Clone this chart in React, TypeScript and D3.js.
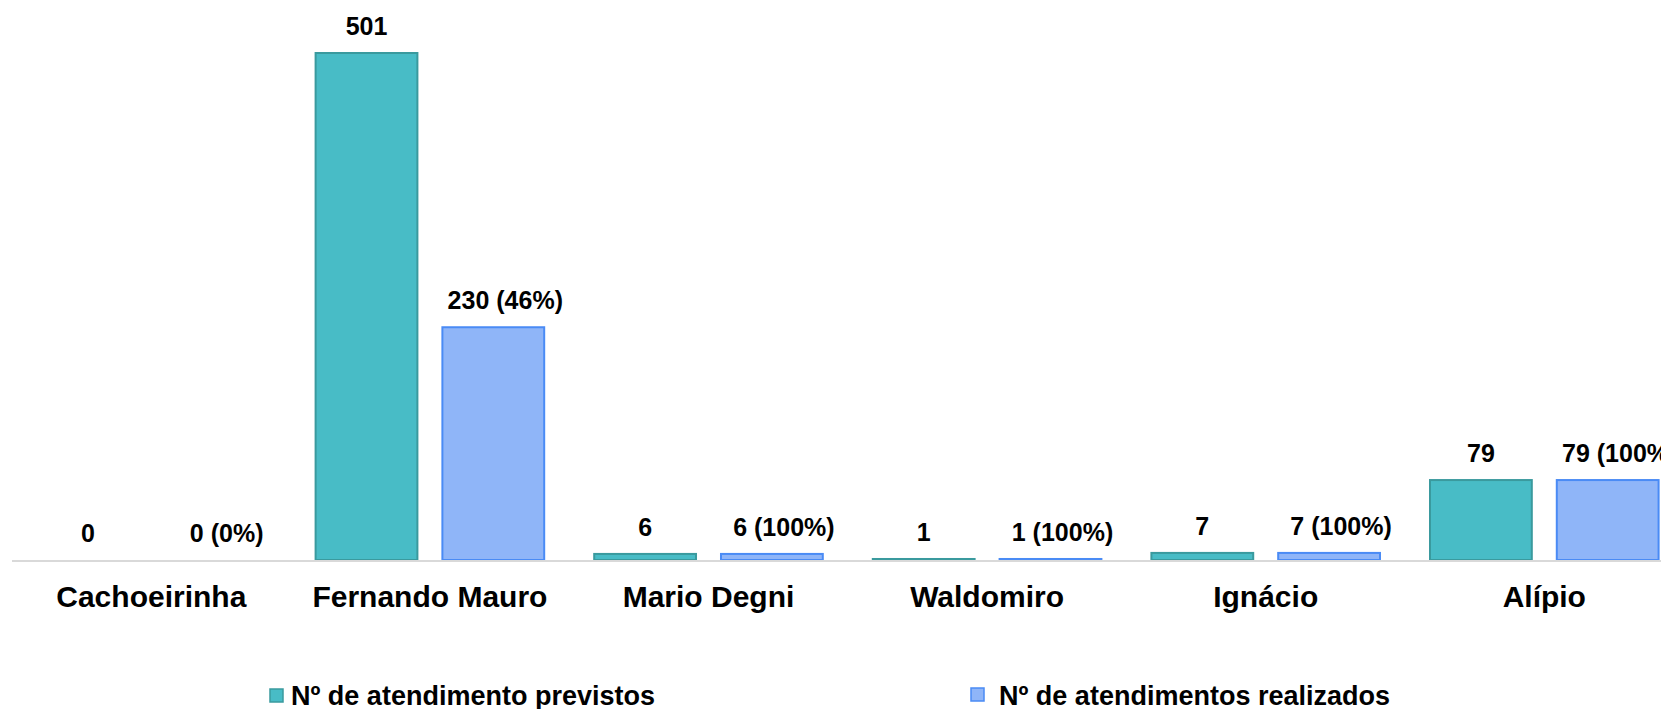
import React from "react";
import * as d3 from "d3";

const categories = ["Cachoeirinha", "Fernando Mauro", "Mario Degni", "Waldomiro", "Ignácio", "Alípio"];
const previstos = [0, 501, 6, 1, 7, 79];
const realizados = [0, 230, 6, 1, 7, 79];
const realizadosPct = ["0%", "46%", "100%", "100%", "100%", "100%"];
const seriesNames = ["Nº de atendimento previstos", "Nº de atendimentos realizados"];

const W = 1661;
const H = 709;
const FONT = "'Liberation Sans', Arial, Helvetica, sans-serif";

export default function App() {
  const x0 = 12;
  const step = 278.6;
  const x = d3
    .scaleBand<string>()
    .domain(categories)
    .range([x0, x0 + step * categories.length])
    .paddingInner(0)
    .paddingOuter(0);
  const inner = d3.scaleBand<string>().domain(["p", "r"]).range([25, step - 25]).paddingInner(0.197);
  const baseY = 560;
  const y = d3.scaleLinear().domain([0, 501]).range([baseY, 53]);

  const tealFill = "#48BCC6";
  const tealStroke = "#3A9A9E";
  const blueFill = "#8FB5F8";
  const blueStroke = "#4A8BF5";

  return (
    <svg
      width={W}
      height={H}
      style={{ position: "absolute", left: 0, top: 0, display: "block", background: "#fff" }}
      fontFamily={FONT}
    >
      <rect x={0} y={0} width={W} height={H} fill="#fff" />
      {categories.map((c, i) => {
        const bx = x(c)!;
        const pX = bx + inner("p")!;
        const rX = bx + inner("r")!;
        const bw = inner.bandwidth();
        const pY = y(previstos[i]);
        const rY = y(realizados[i]);
        return (
          <g key={c}>
            {previstos[i] > 0 && (
              <rect x={pX} y={pY} width={bw} height={baseY - pY} fill={tealFill} stroke={tealStroke} strokeWidth={2} />
            )}
            {realizados[i] > 0 && (
              <rect x={rX} y={rY} width={bw} height={baseY - rY} fill={blueFill} stroke={blueStroke} strokeWidth={2} />
            )}
            <text x={pX + bw / 2} y={pY - 18} textAnchor="middle" fontSize={25} fontWeight="bold" fill="#000">
              {previstos[i]}
            </text>
            <text x={rX + bw / 2 + 12} y={rY - 18} textAnchor="middle" fontSize={25} fontWeight="bold" fill="#000">
              {`${realizados[i]} (${realizadosPct[i]})`}
            </text>
            <text x={bx + step / 2} y={607} textAnchor="middle" fontSize={30} fontWeight="bold" fill="#000">
              {c}
            </text>
          </g>
        );
      })}
      <line x1={x0} x2={W} y1={baseY + 1} y2={baseY + 1} stroke="#D9D9D9" strokeWidth={2} />
      <g>
        <rect x={270} y={689} width={13} height={13} fill={tealFill} stroke={tealStroke} strokeWidth={1.5} />
        <text x={291} y={705} fontSize={27} fontWeight="bold" fill="#000">
          {seriesNames[0]}
        </text>
        <rect x={971} y={688} width={13} height={13} fill={blueFill} stroke={blueStroke} strokeWidth={1.5} />
        <text x={999} y={705} fontSize={27} fontWeight="bold" fill="#000">
          {seriesNames[1]}
        </text>
      </g>
    </svg>
  );
}
